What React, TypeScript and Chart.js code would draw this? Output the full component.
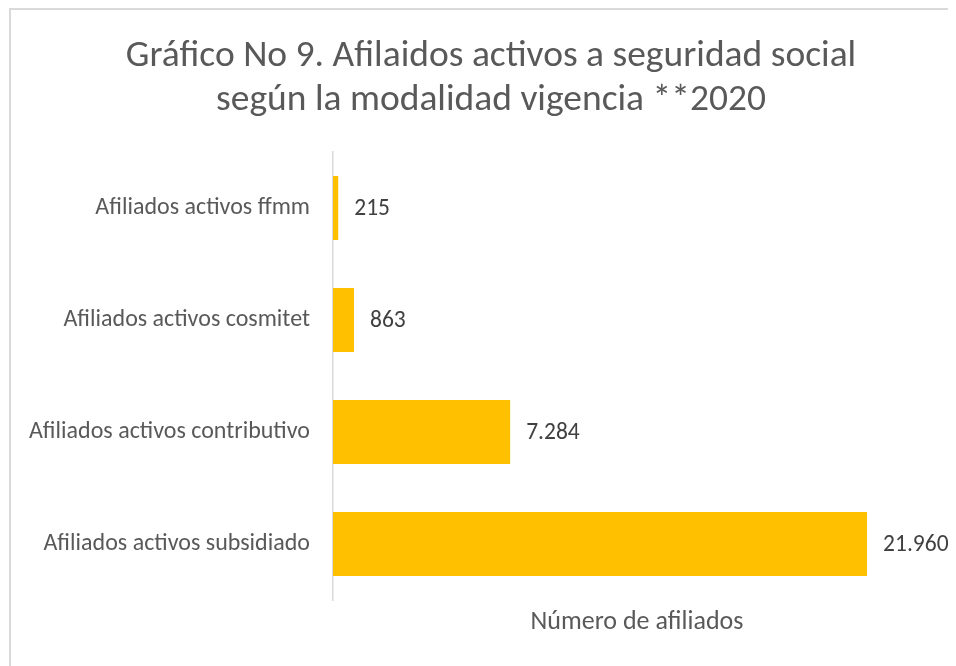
import React, { useEffect, useRef } from "react";
import { Chart, registerables } from "chart.js";

Chart.register(...registerables);

const categories = [
  "Afiliados activos ffmm",
  "Afiliados activos cosmitet",
  "Afiliados activos contributivo",
  "Afiliados activos subsidiado",
];
const values = [215, 863, 7284, 21960];
const titleLines = [
  "Gráfico No 9. Afilaidos activos a seguridad social",
  "según la modalidad vigencia **2020",
];
const xAxisTitle = "Número de afiliados";
const xMax = 25000;

const FONT = "Carlito, Calibri, Lato, sans-serif";

function fmt(v: number): string {
  return String(v).replace(/\B(?=(\d{3})+(?!\d))/g, ".");
}

const valueLabels = {
  id: "valueLabels",
  afterDatasetsDraw(chart: any) {
    const ctx = chart.ctx;
    const meta = chart.getDatasetMeta(0);
    ctx.save();
    ctx.font = `23.5px ${FONT}`;
    ctx.fillStyle = "#404040";
    ctx.textAlign = "left";
    ctx.textBaseline = "middle";
    meta.data.forEach((bar: any, i: number) => {
      const v = chart.data.datasets[0].data[i] as number;
      ctx.fillText(fmt(v), bar.x + 16, bar.y + 1);
    });
    ctx.restore();
  },
};

// The original chart frame extends past the right edge, so its title is centred a bit to the right.
const titleShift = {
  id: "titleShift",
  afterLayout(chart: any) {
    const t = chart.titleBlock;
    if (t) {
      t.left += 15;
      t.right += 15;
    }
  },
};

export default function App() {
  const ref = useRef<HTMLCanvasElement>(null);
  useEffect(() => {
    document.documentElement.style.overflow = "hidden";
    document.body.style.overflow = "hidden";
    const chart = new Chart(ref.current!, {
      type: "bar",
      data: {
        labels: categories,
        datasets: [
          {
            data: values,
            backgroundColor: "#FFC000",
            barPercentage: 1,
            categoryPercentage: 0.5714,
          },
        ],
      },
      options: {
        indexAxis: "y",
        animation: false,
        responsive: true,
        maintainAspectRatio: false,
        layout: { padding: { left: 0, right: 16, top: 0, bottom: 0 } },
        plugins: {
          legend: { display: false },
          tooltip: { enabled: false },
          title: {
            display: true,
            text: titleLines,
            color: "#595959",
            font: { family: FONT, size: 37.5, weight: "normal", lineHeight: "44px" as any },
            padding: { top: 25, bottom: 29 },
          },
        },
        scales: {
          x: {
            min: 0,
            max: xMax,
            grid: { display: false, drawTicks: false },
            border: { display: false },
            ticks: { display: false },
            title: {
              display: true,
              text: xAxisTitle,
              color: "#595959",
              font: { family: FONT, size: 26, lineHeight: 1.2 },
              padding: { top: 0, bottom: 28 },
            },
            afterFit(scale: any) {
              scale.height = 66;
            },
          },
          y: {
            grid: { display: false, drawTicks: false },
            border: { display: true, color: "#d9d9d9", width: 1.5 },
            ticks: {
              color: "#595959",
              font: { family: FONT, size: 24 },
              padding: 23,
            },
            afterFit(scale: any) {
              scale.width = 322;
            },
          },
        },
      },
      plugins: [valueLabels, titleShift],
    });
    return () => chart.destroy();
  }, []);
  return (
    <div
      style={{
        borderLeft: "2px solid #d9d9d9",
        borderTop: "2px solid #d9d9d9",
        width: 946,
        height: 656,
        position: "relative",
        marginLeft: 1,
      }}
    >
      <canvas ref={ref} />
    </div>
  );
}
